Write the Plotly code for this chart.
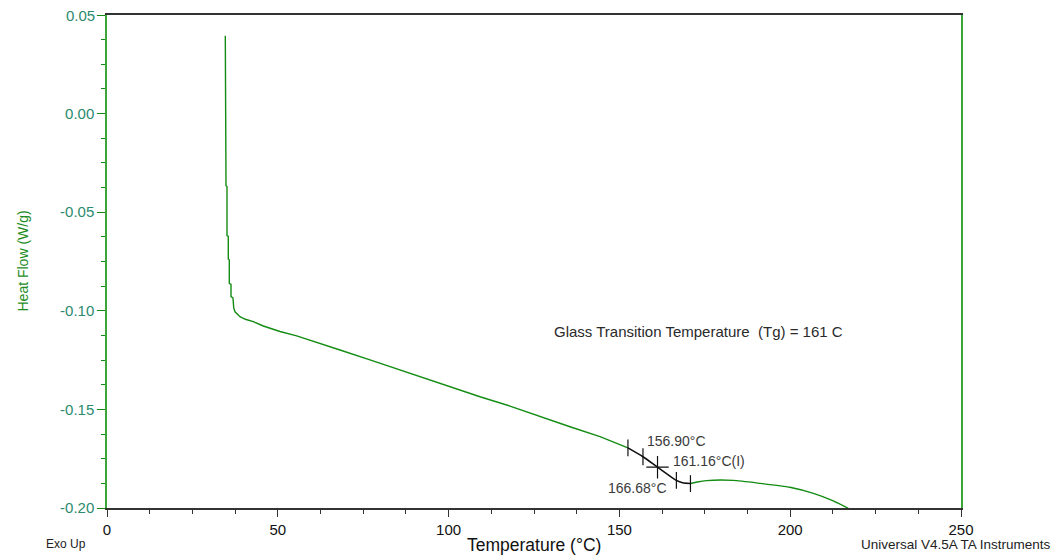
import numpy as np
import plotly.graph_objects as go

# ---- data ----
temp = [34.63, 34.63, 34.84, 34.84, 35.13, 35.13, 35.51, 35.51, 35.80, 35.80,
        36.30, 36.30, 36.88, 37.10, 37.47, 38.06, 38.93, 40.50, 42.83, 45.76,
        50.64, 55.53, 59.43, 63.32, 68.21, 76.99, 85.77, 94.56, 103.34, 109.19,
        117.97, 126.76, 135.54, 144.32, 152.5, 156.9, 161.16, 164.0, 166.68, 168.5,
        170.8, 172.8, 175.5, 183.3, 191.2, 199.9, 206.8, 212.6, 217.0]
heat = [0.0395, 0.0010, 0.0005, -0.0366, -0.0370, -0.0619, -0.0623, -0.0737, -0.0741, -0.0861,
        -0.0866, -0.0928, -0.0935, -0.0985, -0.1005, -0.1015, -0.1030, -0.1043, -0.1055, -0.1077,
        -0.1105, -0.1127, -0.1148, -0.1170, -0.1199, -0.1249, -0.1300, -0.1351, -0.1405, -0.1436,
        -0.1483, -0.1537, -0.1588, -0.1638, -0.1695, -0.1740, -0.1793, -0.1828, -0.1860, -0.1872,
        -0.1876, -0.1868, -0.1861, -0.1860, -0.1875, -0.1895, -0.1926, -0.1964, -0.2002]

tg_start, tg_end = 152.5, 170.8
onset = 156.90
inflection = 161.16
endset = 166.68
tg_text = "Glass Transition Temperature \u00a0(Tg) = 161 C"

x_ticks = [0, 50, 100, 150, 200, 250]
y_ticks = [0.05, 0.00, -0.05, -0.10, -0.15, -0.20]

temp_a = np.array(temp)
heat_a = np.array(heat)

GREEN = "#148c14"
AXGREEN = "#3aa63a"
DARK = "#333333"
FONT = "Liberation Sans, Arial"
YTICK_COLOR = "#2b8a6e"

fig = go.Figure()

m1 = temp_a <= tg_start
m2 = (temp_a >= tg_start) & (temp_a <= tg_end)
m3 = temp_a >= tg_end
fig.add_trace(go.Scatter(x=temp_a[m1], y=heat_a[m1], mode="lines",
                         line=dict(color=GREEN, width=1.4), hoverinfo="skip"))
fig.add_trace(go.Scatter(x=temp_a[m3], y=heat_a[m3], mode="lines",
                         line=dict(color=GREEN, width=1.4, shape="spline", smoothing=0.6),
                         hoverinfo="skip"))
fig.add_trace(go.Scatter(x=temp_a[m2], y=heat_a[m2], mode="lines",
                         line=dict(color="#111111", width=1.6, shape="spline", smoothing=0.6),
                         hoverinfo="skip"))

marks = [tg_start, onset, endset, tg_end]
fig.add_trace(go.Scatter(x=marks, y=np.interp(marks, temp_a, heat_a), mode="markers",
                         marker=dict(symbol="line-ns", size=12,
                                     line=dict(color="#111111", width=1.2)),
                         hoverinfo="skip"))
fig.add_trace(go.Scatter(x=[inflection], y=np.interp([inflection], temp_a, heat_a),
                         mode="markers",
                         marker=dict(symbol="cross-thin", size=16,
                                     line=dict(color="#111111", width=1.2)),
                         hoverinfo="skip"))

lab_font = dict(family=FONT, size=14, color="#3a3a3a")
y_on = float(np.interp(onset, temp_a, heat_a))
y_in = float(np.interp(inflection, temp_a, heat_a))
y_en = float(np.interp(endset, temp_a, heat_a))
fig.add_annotation(x=onset, y=y_on, text=f"{onset:.2f}°C", showarrow=False,
                   xanchor="left", yanchor="middle", xshift=2, yshift=16, font=lab_font)
fig.add_annotation(x=inflection, y=y_in, text=f"{inflection:.2f}°C(I)", showarrow=False,
                   xanchor="left", yanchor="middle", xshift=13, yshift=6, font=lab_font)
fig.add_annotation(x=endset, y=y_en, text=f"{endset:.2f}°C", showarrow=False,
                   xanchor="right", yanchor="middle", xshift=-7, yshift=-8, font=lab_font)

fig.add_annotation(x=130.2, y=-0.1106, text=tg_text, showarrow=False,
                   xanchor="left", yanchor="middle",
                   font=dict(family=FONT, size=15, color="#2a2a2a"))

# top y tick label (drawn as annotation so it is not hidden at the figure edge)
fig.add_annotation(xref="paper", x=0, y=y_ticks[0], xshift=-10, text=f"{y_ticks[0]:.2f}",
                   showarrow=False, xanchor="right", yanchor="middle",
                   font=dict(family=FONT, size=15, color=YTICK_COLOR))

# axis titles and footer texts
fig.add_annotation(xref="paper", yref="paper", x=0.5, y=0, yshift=-37,
                   text="Temperature (°C)", showarrow=False, yanchor="middle",
                   font=dict(family=FONT, size=17.5, color="#111111"))
fig.add_annotation(xref="paper", yref="paper", x=0, y=0.5, xshift=-85,
                   text="Heat Flow (W/g)", showarrow=False, textangle=-90,
                   xanchor="center", yanchor="middle",
                   font=dict(family=FONT, size=14, color="#1e8c1e"))
fig.add_annotation(xref="paper", yref="paper", x=0, y=0, xshift=-63, yshift=-36,
                   text="Exo Up", showarrow=False, xanchor="left", yanchor="middle",
                   font=dict(family=FONT, size=12, color="#222222"))
fig.add_annotation(xref="paper", yref="paper", x=1, y=0, xshift=92, yshift=-36,
                   text="Universal V4.5A TA Instruments", showarrow=False,
                   xanchor="right", yanchor="middle",
                   font=dict(family=FONT, size=13.5, color="#222222"))

fig.update_layout(
    width=1052, height=548,
    margin=dict(l=99, r=99, t=7, b=48, autoexpand=False),
    paper_bgcolor="white", plot_bgcolor="white",
    showlegend=False,
    xaxis=dict(range=[0, 250], tickvals=x_ticks, ticktext=[str(v) for v in x_ticks],
               showgrid=False, zeroline=False, showline=True, linecolor=DARK,
               linewidth=1.5, mirror=True, ticks="outside", ticklen=7, tickcolor=DARK,
               minor=dict(dtick=12.5, tick0=0, ticks="outside", ticklen=4, tickcolor=DARK),
               tickfont=dict(family=FONT, size=15, color="#111111")),
    yaxis=dict(range=[-0.20, 0.05], tickvals=y_ticks,
               ticktext=[""] + [f"{v:.2f}" for v in y_ticks[1:]],
               showgrid=False, zeroline=False, showline=True, linecolor=AXGREEN,
               linewidth=1.5, mirror=True, ticks="outside", ticklen=8, tickcolor=GREEN,
               minor=dict(dtick=0.0125, tick0=0, ticks="outside", ticklen=4, tickcolor=GREEN),
               tickfont=dict(family=FONT, size=15, color=YTICK_COLOR)),
)

fig.write_html("out.html")
